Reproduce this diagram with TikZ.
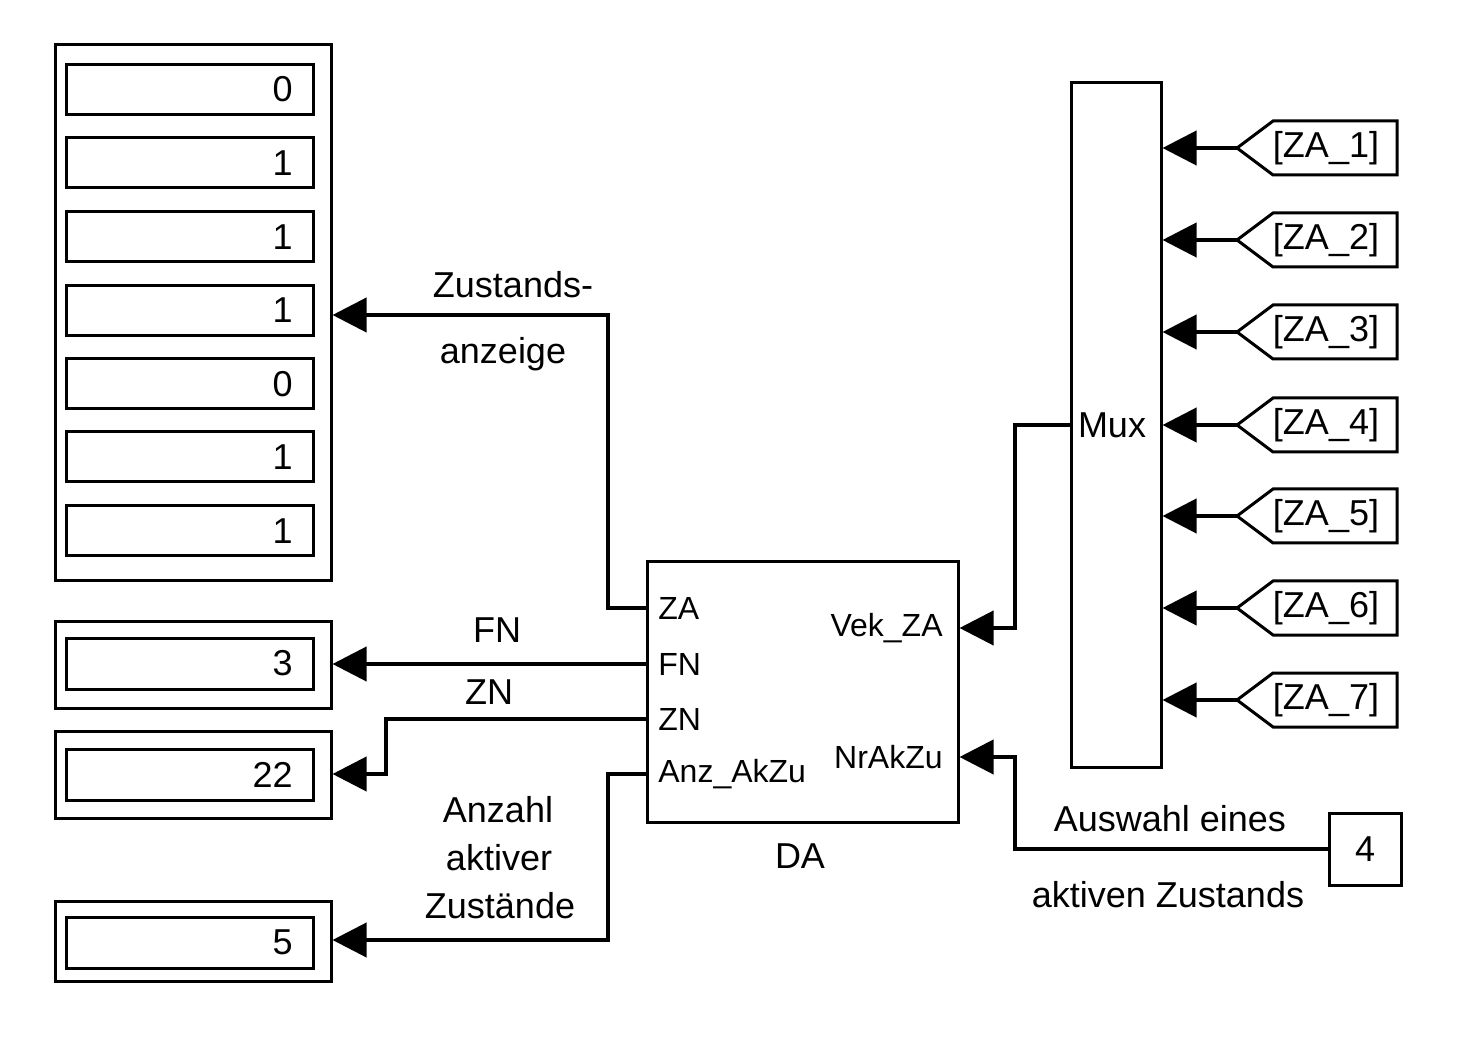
\documentclass[tikz,border=0pt]{standalone}
\usepackage{fontspec}
\setmainfont{Liberation Sans}
\usetikzlibrary{arrows.meta}
\begin{document}
\begin{tikzpicture}[x=0.5pt,y=-0.5pt,
 box/.style={draw,line width=1.5pt,inner sep=0pt},
 sig/.style={line width=2pt,-{Triangle[length=17pt,width=17pt]}},
 tagbox/.style={line width=1.5pt,line join=miter},
 lbl/.style={font=\fontsize{18}{21}\selectfont, inner sep=0pt},
 port/.style={font=\fontsize{16}{19}\selectfont, inner sep=0pt}]
\useasboundingbox (0,0) rectangle (1484,1053);
% main display
\node[box, minimum width=138pt, minimum height=268pt] (disp) at (193,313) {};
\foreach \y/\v [count=\i] in {89.5/0,163/1,237/1,310.5/1,384/0,457/1,531/1} {
  \node[box, minimum width=123.5pt, minimum height=25pt] (d\i) at (189.5,\y) {};
  \node[lbl, anchor=east] (dv\i) at (293,\y) {\v};
}
% FN display
\node[box, minimum width=138pt, minimum height=43.5pt] (dfn) at (193,664.5) {};
\node[box, minimum width=123.5pt, minimum height=25.5pt] (dfni) at (189.5,663.5) {};
\node[lbl, anchor=east] (dfnv) at (293,663.5) {3};
% ZN display
\node[box, minimum width=138pt, minimum height=43.5pt] (dzn) at (193,774.5) {};
\node[box, minimum width=123.5pt, minimum height=25.5pt] (dzni) at (189.5,774.5) {};
\node[lbl, anchor=east] (dznv) at (293,774.5) {22};
% Anz display
\node[box, minimum width=138pt, minimum height=40pt] (danz) at (193,941) {};
\node[box, minimum width=123.5pt, minimum height=25.5pt] (danzi) at (189.5,942.5) {};
\node[lbl, anchor=east] (danzv) at (293,942.5) {5};
% DA block
\node[box, minimum width=155.5pt, minimum height=130pt] (da) at (802.5,692) {};
\node[lbl] (daname) at (800,856) {DA};
\node[port, anchor=west] (lZA) at (658,608) {ZA};
\node[port, anchor=west] (lFN) at (658,664) {FN};
\node[port, anchor=west] (lZN) at (658,719) {ZN};
\node[port, anchor=west] (lAnz) at (658,774) {Anz\_AkZu};
\node[port, anchor=east] (lVek) at (943,628) {Vek\_ZA};
\node[port, anchor=east] (lNr) at (943,757) {NrAkZu};
\coordinate (pZA) at (647,608);
\coordinate (pFN) at (647,664);
\coordinate (pZN) at (647,719);
\coordinate (pAnz) at (647,774);
% Mux
\node[box, minimum width=45pt, minimum height=342pt] (mux) at (1116,425) {};
\node[lbl] (muxl) at (1112,425) {Mux};
% goto tags
\foreach \y [count=\i] in {148,240,332,425,516,608,700} {
  \coordinate (t\i) at (1237,\y);
  \draw[tagbox] (t\i) -- ++(36,-27) -- ++(124,0) -- ++(0,54) -- ++(-124,0) -- cycle;
  \node[lbl] (tl\i) at (1326,\y) {[ZA\_\i]};
  \draw[sig] (t\i) -- (mux.east |- t\i);
}
% constant
\node[box, minimum width=36pt, minimum height=36pt] (c4) at (1365,849) {};
\node[lbl] (c4l) at (1365,849) {4};
% connectors
\draw[sig] (pZA) -- (608,608) -- (608,315) -- (disp.east |- 608,315);
\draw[sig] (pFN) -- (dfn.east |- pFN);
\draw[sig] (pZN) -- (386,719) -- (386,774) -- (dzn.east |- 386,774);
\draw[sig] (pAnz) -- (608,774) -- (608,940) -- (danz.east |- 608,940);
\draw[sig] (mux.west) -- (1015,425) -- (1015,628) -- (da.east |- 1015,628);
\draw[sig] (c4.west) -- (1015,849) -- (1015,757) -- (da.east |- 1015,757);
% labels
\node[lbl] (z1) at (513,285) {Zustands-};
\node[lbl] (z2) at (503,354) {anzeige};
\node[lbl] (fnl) at (497,630) {FN};
\node[lbl] (znl) at (489,692) {ZN};
\node[lbl] (a1) at (498,810) {Anzahl};
\node[lbl] (a2) at (499,858) {aktiver};
\node[lbl] (a3) at (500,906) {Zustände};
\node[lbl] (w1) at (1170,819) {Auswahl eines};
\node[lbl] (w2) at (1168,895) {aktiven Zustands};
\end{tikzpicture}
\end{document}
